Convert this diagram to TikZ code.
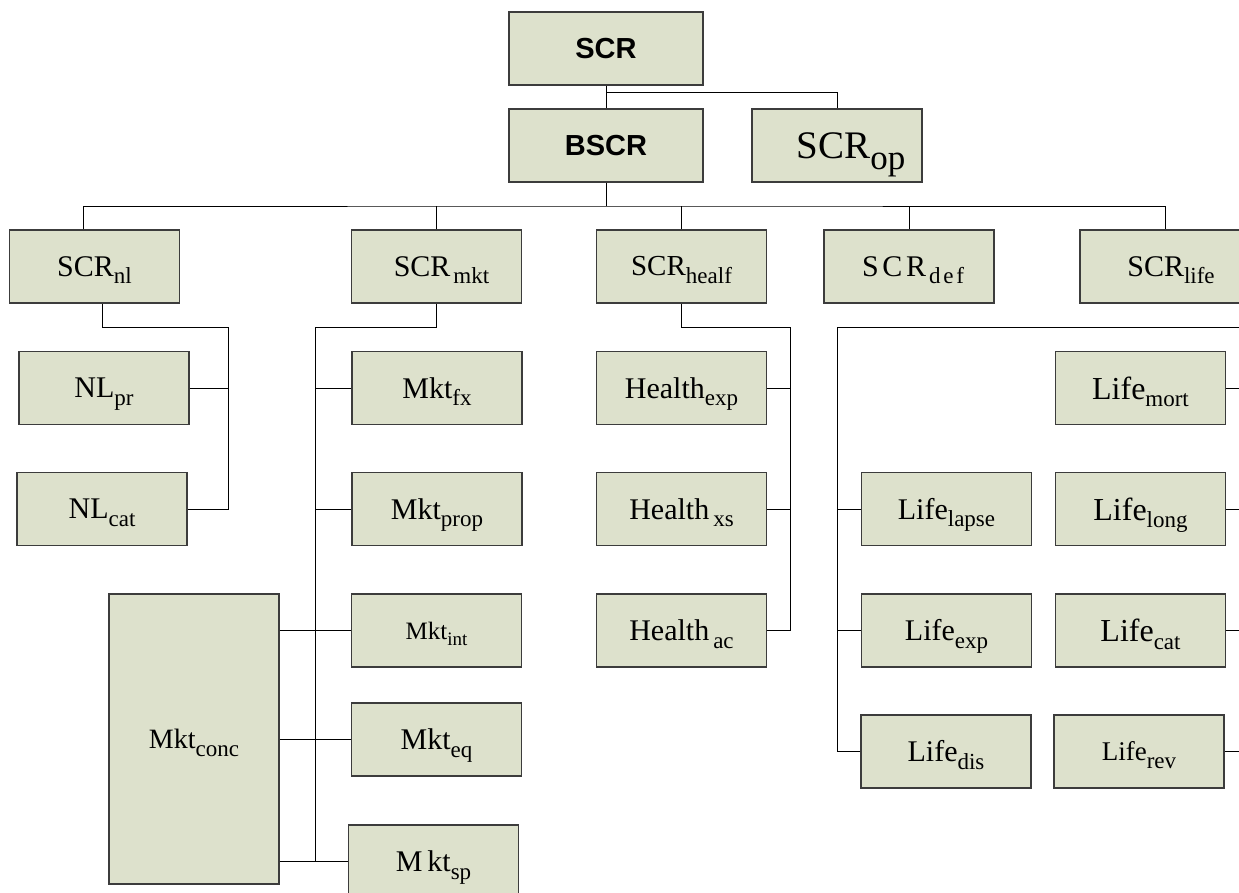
\documentclass[tikz,border=0pt]{standalone}
\usepackage{fontspec}
\setmainfont{Liberation Serif}
\setsansfont{Liberation Sans}
\newfontfamily\spacedserif[LetterSpace=12]{Liberation Serif}
\definecolor{boxfill}{RGB}{221,225,204}
\definecolor{boxline}{RGB}{60,60,60}
\newcommand{\lo}[1]{\smash{\raisebox{-7.5pt}{\fontsize{23}{23}\selectfont #1}}}

\begin{document}
\begin{tikzpicture}[x=1pt, y=-1pt,
    box/.style={draw=boxline, fill=boxfill, line width=1.2pt, minimum width=170pt,
        minimum height=73pt, inner sep=0pt, font=\fontsize{30}{36}\selectfont},
    head/.style={box, minimum width=194pt, font=\sffamily\bfseries\fontsize{29}{35}\selectfont},
    link/.style={draw=black, line width=1pt}]
    \clip (0,0) rectangle (1239,892);
    \fill[white] (0,0) rectangle (1239,892);

    \node[head] (scr) at (606,48.5) {SCR};
    \node[head] (bscr) at (606,145.5) {BSCR};
    \node[box] (scrop) at (837,145.5) {\hspace*{28pt}\fontsize{39}{44}\selectfont SCR\smash{\raisebox{-11pt}{\fontsize{35}{35}\selectfont op}}};

    \node[box] (scrnl) at (94.5,266.5) {SCR\lo{nl}};
    \node[box] (scrmkt) at (436.5,266.5) {\hspace*{10pt}SCR\kern3pt\lo{mkt}};
    \node[box] (scrhealf) at (681.5,266.5) {\fontsize{29}{34}\selectfont SCR\lo{healf}};
    \node[box] (scrdef) at (909,266.5) {\hspace*{8pt}{\spacedserif SCR}\kern3pt\lo{\spacedserif def}};
    \node[box] (scrlife) at (1165,266.5) {\hspace*{12pt}SCR\lo{life}};

    \node[box] (nlpr) at (104,388) {NL\lo{pr}};
    \node[box] (nlcat) at (102,509) {NL\lo{cat}};

    \node[box] (mktfx) at (437,388) {Mkt\lo{fx}};
    \node[box] (mktprop) at (437,509) {Mkt\lo{prop}};
    \node[box] (mktint) at (436.5,630.5) {\fontsize{25}{30}\selectfont Mkt\smash{\raisebox{-6pt}{\fontsize{19}{19}\selectfont int}}};
    \node[box] (mkteq) at (436.5,739.5) {Mkt\lo{eq}};
    \node[box] (mktsp) at (433.5,861.5) {M\kern5pt kt\lo{sp}};
    \node[box, minimum height=290pt] (mktconc) at (194,739) {\fontsize{28}{34}\selectfont Mkt\lo{conc}};

    \node[box] (healthexp) at (681.5,388) {Health\lo{exp}};
    \node[box] (healthxs) at (681.5,509) {Health\kern4pt\lo{xs}};
    \node[box] (healthac) at (681.5,630.5) {Health\kern4pt\lo{ac}};

    \node[box] (lifelapse) at (946.5,509) {Life\lo{lapse}};
    \node[box] (lifeexp) at (946.5,630.5) {Life\lo{exp}};
    \node[box] (lifedis) at (946,751.5) {Life\lo{dis}};
    \node[box] (lifemort) at (1140.5,388) {\fontsize{32}{38}\selectfont Life\lo{mort}};
    \node[box] (lifelong) at (1140.5,509) {\fontsize{32}{38}\selectfont Life\lo{long}};
    \node[box] (lifecat) at (1140.5,630.5) {\fontsize{32}{38}\selectfont Life\lo{cat}};
    \node[box] (liferev) at (1139,751.5) {\fontsize{27}{32}\selectfont Life\lo{rev}};

    \coordinate (opbus) at (606,92);
    \coordinate (bus) at (606,206);
    \draw[link] (scr) -- (bscr);
    \draw[link] (opbus) -| (scrop.north);
    \draw[link] (bscr) -- (bus);
    \draw[link] ([xshift=-11.5pt]scrnl.north) |- (bus) -| (scrlife.north);
    \foreach \n in {scrmkt, scrhealf, scrdef}
        \draw[link] (\n.north) -- (\n.north |- bus);

    \coordinate (nlbus) at (228,327);
    \draw[link] ([xshift=7.5pt]scrnl.south) |- (nlbus) |- (nlcat.east);
    \draw[link] (nlpr.east) -- (nlpr.east -| nlbus);

    \coordinate (mktbus) at (315,327);
    \draw[link] (scrmkt.south) |- (mktbus) |- (mktsp.west);
    \foreach \n in {mktfx, mktprop}
        \draw[link] (\n.west) -- (\n.west -| mktbus);
    \foreach \n in {mktint, mkteq, mktsp}
        \draw[link] (\n.west -| mktconc.east) -- (\n.west);

    \coordinate (hbus) at (790,327);
    \draw[link] (scrhealf.south) |- (hbus) |- (healthac.east);
    \foreach \n in {healthexp, healthxs}
        \draw[link] (\n.east) -- (\n.east -| hbus);

    \coordinate (lbus) at (837.5,327);
    \coordinate (redge) at (1245,327);
    \draw[link] (lifedis.west) -| (lbus) -- (redge);
    \foreach \n in {lifelapse, lifeexp}
        \draw[link] (\n.west) -- (\n.west -| lbus);
    \foreach \n in {lifemort, lifelong, lifecat, liferev}
        \draw[link] (\n.east) -- (\n.east -| redge);
\end{tikzpicture}
\end{document}
